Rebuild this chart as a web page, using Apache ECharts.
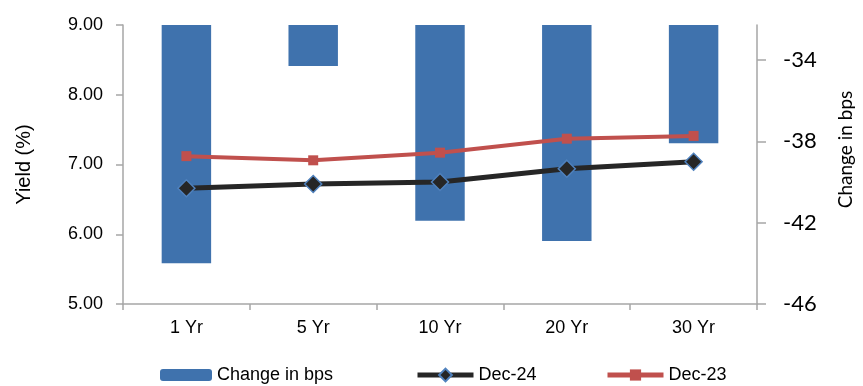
<!DOCTYPE html>
<html>
<head>
<meta charset="utf-8">
<script src="https://cdn.jsdelivr.net/npm/echarts@6/dist/echarts.min.js"></script>
<style>html,body{margin:0;padding:0;background:#fff}#c{width:863px;height:386px}</style>
</head>
<body>
<div id="c"></div>
<script>
const categories = ['1 Yr', '5 Yr', '10 Yr', '20 Yr', '30 Yr'];
const changeBps = [-44.0, -34.3, -41.9, -42.9, -38.1];
const dec24 = [6.66, 6.72, 6.75, 6.94, 7.04];
const dec23 = [7.12, 7.06, 7.17, 7.37, 7.41];
const yieldTicks = [5, 6, 7, 8, 9];
const bpsTicks = [-46, -42, -38, -34];

const chart = echarts.init(document.getElementById('c'));
const axisGray = '#a6a6a6';
const legendText = { fontFamily: 'Liberation Sans', fontSize: 18, color: '#000' };
chart.setOption({
  animation: false,
  backgroundColor: '#fff',
  grid: { left: 123, right: 104, top: 25, bottom: 82 },
  legend: [
    { data: ['Change in bps'], left: 160, top: 366, padding: 0, itemWidth: 52, itemHeight: 12,
      textStyle: legendText },
    { data: ['Dec-24'], left: 415, top: 366, padding: 0, itemWidth: 56, itemHeight: 16,
      lineStyle: { width: 5 }, textStyle: legendText },
    { data: ['Dec-23'], left: 605, top: 366, padding: 0, itemWidth: 56, itemHeight: 14,
      lineStyle: { width: 5 }, textStyle: legendText }
  ],
  xAxis: {
    type: 'category', data: categories, boundaryGap: true,
    axisLine: { lineStyle: { color: axisGray, width: 1.5 } },
    axisTick: { show: true, length: 6, lineStyle: { color: axisGray, width: 1.5 } },
    axisLabel: { fontFamily: 'Liberation Sans', fontSize: 18, color: '#000', margin: 15 }
  },
  yAxis: [
    {
      type: 'value', min: 5, max: 9, interval: 1,
      name: 'Yield (%)', nameLocation: 'middle', nameGap: 89, nameRotate: 90,
      nameTextStyle: { fontFamily: 'Liberation Sans', fontSize: 20, color: '#000' },
      axisLine: { show: true, lineStyle: { color: axisGray, width: 1.5 } },
      axisTick: { show: true, length: 7, lineStyle: { color: axisGray, width: 1.5 } },
      splitLine: { show: false },
      axisLabel: { fontFamily: 'Liberation Sans', fontSize: 18, color: '#000', margin: 20,
        customValues: yieldTicks, formatter: v => v.toFixed(2) }
    },
    {
      type: 'value', position: 'right', min: -46, max: -32.28,
      name: 'Change in bps', nameLocation: 'middle', nameGap: 79, nameRotate: 90,
      nameTextStyle: { fontFamily: 'Lato', fontSize: 19, color: '#000', padding: [0, 0, 0, 30] },
      axisLine: { show: true, lineStyle: { color: axisGray, width: 1.5 } },
      axisTick: { show: true, length: 9, customValues: bpsTicks, lineStyle: { color: axisGray, width: 1.5 } },
      splitLine: { show: false },
      axisLabel: { fontFamily: 'Lato', fontSize: 22, color: '#000', margin: 26,
        customValues: bpsTicks, formatter: v => String(v) }
    }
  ],
  series: [
    {
      name: 'Change in bps', type: 'bar', yAxisIndex: 1, data: changeBps,
      barWidth: '39%', clip: true, z: 1,
      itemStyle: { color: '#3f72ad' }
    },
    {
      name: 'Dec-24', type: 'line', yAxisIndex: 0, data: dec24, z: 4,
      symbol: 'diamond', symbolSize: 17,
      lineStyle: { color: '#262626', width: 5 },
      itemStyle: { color: '#262626', borderColor: '#4f81bd', borderWidth: 1.5 }
    },
    {
      name: 'Dec-23', type: 'line', yAxisIndex: 0, data: dec23, z: 3,
      symbol: 'rect', symbolSize: 10,
      lineStyle: { color: '#c0504d', width: 4 },
      itemStyle: { color: '#c0504d' }
    }
  ]
});
</script>
</body>
</html>
